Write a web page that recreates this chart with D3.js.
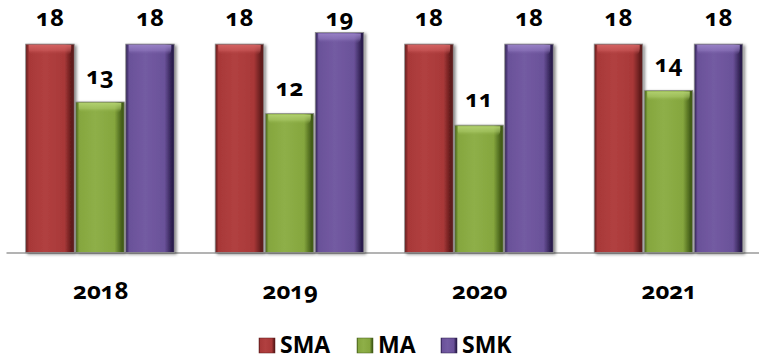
<!DOCTYPE html>
<html><head><meta charset="utf-8">
<script src="https://cdn.jsdelivr.net/npm/d3@7"></script>
<style>
body{margin:0;background:#fff}
text{font-family:"Open Sans","Noto Sans",sans-serif;font-weight:700;fill:#000;
  font-variant-numeric:oldstyle-nums;font-feature-settings:"onum" 1}
</style></head>
<body><svg id="chart" width="759" height="359"></svg>
<script>
// Data
const years = ["2018", "2019", "2020", "2021"];
const seriesNames = ["SMA", "MA", "SMK"];
const sma = [18, 18, 18, 18];
const ma  = [13, 12, 11, 14];
const smk = [18, 19, 18, 18];

const seriesValues = [sma, ma, smk];
const palette = {
  SMA: {dark: "#5e1a1a", mid: "#a83838", light: "#d46262"},
  MA:  {dark: "#435d18", mid: "#85a63e", light: "#b2d170"},
  SMK: {dark: "#2c1f4e", mid: "#6a5199", light: "#9881c6"}
};

const W = 759, H = 359;
const baseY = 252.5;
const svg = d3.select("#chart");

const x0 = d3.scaleBand().domain(years).range([6, 764])
  .paddingInner(0.208).paddingOuter(0.104);
const x1 = d3.scaleBand().domain(seriesNames).range([0, x0.bandwidth()]).padding(0.0);
const y = d3.scaleLinear().domain([0, 19]).range([baseY, 32.5]);

// Gradients for the shaded bar faces
const defs = svg.append("defs");
seriesNames.forEach(s => {
  const c = palette[s];
  const g = defs.append("linearGradient").attr("id", "face-" + s)
    .attr("x1", 0).attr("x2", 1).attr("y1", 0).attr("y2", 0);
  [[0, c.dark], [0.07, c.mid], [0.4, d3.interpolateRgb(c.mid, c.light)(0.2)],
   [0.8, c.mid], [0.95, c.dark], [1, c.dark]]
    .forEach(([o, col]) => g.append("stop").attr("offset", o).attr("stop-color", col));
  const t = defs.append("linearGradient").attr("id", "top-" + s)
    .attr("x1", 0).attr("x2", 0).attr("y1", 0).attr("y2", 1);
  [[0, c.light, 0.95], [0.55, c.light, 0.5], [1, c.mid, 0]]
    .forEach(([o, col, op]) => t.append("stop").attr("offset", o)
      .attr("stop-color", col).attr("stop-opacity", op));
});
const shadow = defs.append("filter").attr("id", "shadow")
  .attr("x", "-10%").attr("y", "-5%").attr("width", "130%").attr("height", "115%");
shadow.append("feDropShadow").attr("dx", 2).attr("dy", 1.5).attr("stdDeviation", 1.5)
  .attr("flood-color", "#000").attr("flood-opacity", 0.45);

// Axis: baseline and year labels
const axis = svg.append("g").attr("transform", `translate(0,${baseY})`)
  .call(d3.axisBottom(x0).tickSize(0).tickSizeOuter(0).tickPadding(30));
axis.select(".domain").attr("stroke", "#9a9a9a").attr("stroke-width", 1.6);
axis.selectAll(".tick text").attr("font-size", 24).attr("font-family", null)
  .attr("dy", "0.71em").attr("fill", "#000").attr("y", 29);

// Bars
const rows = years.map((yr, i) => ({
  year: yr,
  bars: seriesNames.map((s, k) => ({series: s, value: seriesValues[k][i]}))
}));

const groups = svg.append("g").selectAll("g").data(rows).join("g")
  .attr("transform", d => `translate(${x0(d.year)},0)`);

const bw = x1.bandwidth() - 1.5;
const bar = groups.selectAll("g.bar").data(d => d.bars).join("g").attr("class", "bar")
  .attr("transform", d => `translate(${x1(d.series)},0)`);

bar.append("rect")
  .attr("x", 0).attr("width", bw)
  .attr("y", d => y(d.value)).attr("height", d => baseY - y(d.value))
  .attr("fill", d => `url(#face-${d.series})`)
  .attr("stroke", "#8d8d8d").attr("stroke-width", 0.8)
  .attr("filter", "url(#shadow)");

// rounded top bevel highlight
bar.append("path")
  .attr("d", d => {
    const t = y(d.value) + 1, h = 10, r = 6;
    return `M${3},${t} L${bw - 3},${t} L${bw - 3},${t + h - r} Q${bw - 3},${t + h} ${bw - 3 - r},${t + h}
            L${3 + r},${t + h} Q${3},${t + h} ${3},${t + h - r} Z`;
  })
  .attr("fill", d => `url(#top-${d.series})`);

// Value labels above bars
bar.append("text")
  .attr("x", bw / 2)
  .attr("y", d => Math.max(y(d.value) - 18, 26))
  .attr("text-anchor", "middle").attr("font-size", 24)
  .text(d => d.value);

// Legend
const legend = svg.append("g");
const legendX = [259, 357, 441];
seriesNames.forEach((s, k) => {
  const c = palette[s];
  const g = legend.append("g").attr("transform", `translate(${legendX[k]},338)`);
  g.append("rect").attr("width", 16).attr("height", 15)
    .attr("fill", `url(#face-${s})`).attr("stroke", c.dark).attr("stroke-width", 0.5);
  g.append("text").attr("x", 21).attr("y", 15).attr("font-size", 23)
    .style("font-variant-numeric", "normal").text(s);
});
</script></body></html>
